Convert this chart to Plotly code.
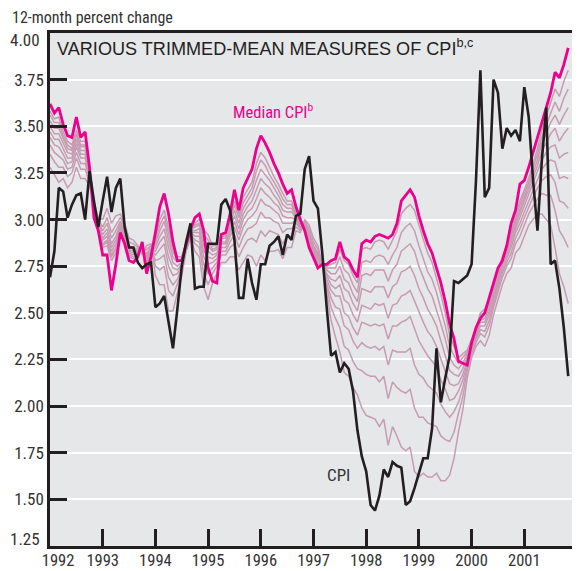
import plotly.graph_objects as go

# ---------------- data ----------------
start_year = 1992  # first observation: January 1992, monthly to November 2001

median_cpi = [
    3.62, 3.57, 3.60, 3.51, 3.45, 3.44, 3.55, 3.44, 3.47, 3.28,
    3.01, 2.94, 2.81, 2.81, 2.62, 2.76, 2.93, 2.87, 2.78, 2.77,
    2.80, 2.88, 2.71, 2.80, 2.93, 3.07, 3.14, 3.03, 2.88, 2.78,
    2.78, 2.87, 2.95, 3.01, 3.03, 2.94, 2.74, 2.67, 2.66, 2.92,
    2.93, 3.03, 3.16, 3.05, 3.17, 3.22, 3.27, 3.38, 3.45, 3.41,
    3.36, 3.30, 3.25, 3.19, 3.14, 3.16, 3.07, 3.00, 2.94, 2.85,
    2.79, 2.74, 2.76, 2.76, 2.78, 2.79, 2.88, 2.80, 2.78, 2.73,
    2.69, 2.87, 2.89, 2.88, 2.91, 2.92, 2.91, 2.90, 2.92, 2.98,
    3.10, 3.13, 3.16, 3.12, 3.02, 2.94, 2.87, 2.82, 2.74, 2.66,
    2.56, 2.44, 2.36, 2.24, 2.23, 2.22, 2.34, 2.42, 2.47, 2.50,
    2.58, 2.66, 2.74, 2.78, 2.86, 2.98, 3.05, 3.19, 3.21, 3.28,
    3.36, 3.44, 3.53, 3.60, 3.68, 3.79, 3.76, 3.83, 3.92,
]

cpi = [
    2.69, 2.83, 3.17, 3.15, 3.01, 3.08, 3.13, 3.14, 3.00, 3.26,
    3.10, 2.96, 3.10, 3.23, 3.04, 3.17, 3.22, 2.96, 2.85, 2.85,
    2.77, 2.74, 2.76, 2.77, 2.53, 2.55, 2.59, 2.44, 2.31, 2.52,
    2.75, 2.88, 2.98, 2.63, 2.64, 2.64, 2.87, 2.87, 2.87, 3.08,
    3.11, 3.05, 2.89, 2.58, 2.58, 2.79, 2.66, 2.57, 2.76, 2.76,
    2.86, 2.88, 2.91, 2.81, 2.92, 2.89, 3.02, 3.03, 3.27, 3.34,
    3.10, 3.06, 2.82, 2.53, 2.27, 2.29, 2.18, 2.23, 2.20, 2.08,
    1.87, 1.73, 1.65, 1.47, 1.44, 1.52, 1.66, 1.62, 1.70, 1.68,
    1.67, 1.47, 1.49, 1.56, 1.64, 1.72, 1.72, 1.88, 2.31, 2.02,
    2.15, 2.27, 2.67, 2.66, 2.68, 2.70, 2.76, 3.21, 3.80, 3.12,
    3.17, 3.75, 3.68, 3.38, 3.49, 3.45, 3.48, 3.42, 3.71, 3.55,
    3.21, 2.94, 3.32, 3.60, 2.76, 2.78, 2.63, 2.42, 2.16,
]

# trimmed means, from the most heavily trimmed (closest to the median) to the least
trim_45 = [
    3.58, 3.54, 3.55, 3.47, 3.42, 3.40, 3.48, 3.42, 3.42, 3.28,
    3.04, 2.96, 2.85, 2.86, 2.78, 2.82, 2.93, 2.88, 2.80, 2.79,
    2.81, 2.86, 2.76, 2.82, 2.90, 3.00, 3.05, 2.96, 2.86, 2.80,
    2.80, 2.88, 2.95, 2.98, 3.00, 2.94, 2.92, 2.86, 2.86, 2.92,
    2.92, 3.00, 3.10, 3.03, 3.12, 3.16, 3.20, 3.30, 3.36, 3.33,
    3.28, 3.23, 3.19, 3.14, 3.10, 3.10, 3.04, 2.98, 2.95, 2.87,
    2.80, 2.76, 2.76, 2.75, 2.76, 2.77, 2.84, 2.78, 2.76, 2.70,
    2.66, 2.84, 2.85, 2.84, 2.88, 2.89, 2.88, 2.84, 2.89, 2.94,
    3.03, 3.06, 3.08, 3.05, 2.97, 2.89, 2.82, 2.77, 2.69, 2.60,
    2.50, 2.38, 2.32, 2.26, 2.28, 2.30, 2.36, 2.42, 2.50, 2.52,
    2.58, 2.64, 2.72, 2.80, 2.86, 2.94, 3.02, 3.10, 3.16, 3.22,
    3.30, 3.38, 3.48, 3.55, 3.62, 3.70, 3.66, 3.74, 3.80,
]
trim_40 = [
    3.56, 3.52, 3.52, 3.45, 3.40, 3.38, 3.46, 3.40, 3.40, 3.27,
    3.04, 2.96, 2.86, 2.88, 2.80, 2.84, 2.94, 2.89, 2.81, 2.80,
    2.81, 2.86, 2.77, 2.82, 2.88, 2.97, 3.02, 2.92, 2.83, 2.78,
    2.79, 2.88, 2.95, 2.97, 2.98, 2.92, 2.89, 2.84, 2.85, 2.91,
    2.91, 2.98, 3.08, 3.01, 3.09, 3.13, 3.17, 3.26, 3.32, 3.29,
    3.24, 3.20, 3.16, 3.11, 3.08, 3.08, 3.03, 2.98, 2.95, 2.88,
    2.81, 2.77, 2.76, 2.74, 2.74, 2.74, 2.80, 2.73, 2.71, 2.65,
    2.61, 2.77, 2.78, 2.77, 2.80, 2.81, 2.80, 2.76, 2.81, 2.85,
    2.93, 2.96, 2.98, 2.94, 2.86, 2.79, 2.72, 2.68, 2.61, 2.52,
    2.43, 2.32, 2.27, 2.23, 2.26, 2.29, 2.35, 2.41, 2.49, 2.50,
    2.56, 2.63, 2.71, 2.79, 2.85, 2.92, 3.00, 3.08, 3.14, 3.20,
    3.28, 3.35, 3.44, 3.51, 3.57, 3.63, 3.58, 3.65, 3.70,
]
trim_35 = [
    3.53, 3.49, 3.49, 3.43, 3.38, 3.37, 3.45, 3.39, 3.39, 3.26,
    3.05, 2.97, 2.87, 2.89, 2.81, 2.85, 2.95, 2.90, 2.82, 2.81,
    2.82, 2.85, 2.78, 2.83, 2.87, 2.94, 2.99, 2.89, 2.80, 2.77,
    2.78, 2.87, 2.94, 2.96, 2.97, 2.89, 2.86, 2.83, 2.84, 2.90,
    2.90, 2.97, 3.05, 2.98, 3.06, 3.10, 3.14, 3.21, 3.27, 3.24,
    3.21, 3.17, 3.13, 3.08, 3.06, 3.06, 3.02, 2.97, 2.96, 2.89,
    2.82, 2.78, 2.76, 2.73, 2.71, 2.71, 2.75, 2.68, 2.66, 2.60,
    2.56, 2.70, 2.71, 2.70, 2.73, 2.73, 2.73, 2.67, 2.73, 2.76,
    2.83, 2.85, 2.87, 2.83, 2.75, 2.69, 2.63, 2.59, 2.52, 2.44,
    2.36, 2.26, 2.22, 2.20, 2.23, 2.28, 2.34, 2.40, 2.48, 2.49,
    2.55, 2.62, 2.70, 2.78, 2.84, 2.91, 2.99, 3.06, 3.12, 3.18,
    3.25, 3.32, 3.41, 3.46, 3.52, 3.56, 3.51, 3.56, 3.60,
]
trim_30 = [
    3.50, 3.46, 3.46, 3.41, 3.36, 3.35, 3.43, 3.37, 3.37, 3.25,
    3.05, 2.97, 2.89, 2.91, 2.83, 2.87, 2.96, 2.91, 2.83, 2.82,
    2.82, 2.85, 2.79, 2.83, 2.85, 2.91, 2.95, 2.85, 2.77, 2.75,
    2.77, 2.87, 2.94, 2.94, 2.95, 2.86, 2.83, 2.81, 2.82, 2.88,
    2.88, 2.95, 3.02, 2.95, 3.03, 3.07, 3.10, 3.16, 3.22, 3.19,
    3.17, 3.13, 3.10, 3.05, 3.04, 3.04, 3.01, 2.97, 2.96, 2.90,
    2.83, 2.79, 2.76, 2.71, 2.68, 2.67, 2.70, 2.63, 2.61, 2.55,
    2.51, 2.63, 2.62, 2.61, 2.64, 2.64, 2.64, 2.58, 2.64, 2.66,
    2.72, 2.73, 2.75, 2.70, 2.63, 2.58, 2.52, 2.48, 2.43, 2.35,
    2.27, 2.19, 2.17, 2.16, 2.20, 2.26, 2.33, 2.39, 2.46, 2.47,
    2.53, 2.60, 2.68, 2.76, 2.82, 2.89, 2.97, 3.04, 3.10, 3.16,
    3.22, 3.29, 3.37, 3.41, 3.46, 3.49, 3.42, 3.46, 3.49,
]
trim_25 = [
    3.47, 3.43, 3.43, 3.38, 3.33, 3.33, 3.41, 3.35, 3.35, 3.24,
    3.06, 2.98, 2.90, 2.93, 2.85, 2.89, 2.97, 2.92, 2.84, 2.83,
    2.83, 2.84, 2.80, 2.84, 2.83, 2.88, 2.91, 2.80, 2.74, 2.73,
    2.76, 2.86, 2.93, 2.93, 2.93, 2.83, 2.80, 2.79, 2.81, 2.87,
    2.87, 2.93, 2.99, 2.92, 3.00, 3.04, 3.06, 3.11, 3.17, 3.14,
    3.12, 3.09, 3.07, 3.02, 3.01, 3.01, 3.00, 2.96, 2.97, 2.91,
    2.84, 2.80, 2.76, 2.70, 2.65, 2.63, 2.65, 2.57, 2.55, 2.49,
    2.45, 2.54, 2.53, 2.52, 2.55, 2.54, 2.55, 2.47, 2.54, 2.55,
    2.59, 2.60, 2.62, 2.56, 2.50, 2.45, 2.40, 2.37, 2.32, 2.25,
    2.18, 2.12, 2.11, 2.12, 2.17, 2.25, 2.32, 2.38, 2.45, 2.45,
    2.51, 2.59, 2.67, 2.75, 2.81, 2.87, 2.95, 3.01, 3.07, 3.13,
    3.19, 3.26, 3.32, 3.36, 3.39, 3.40, 3.33, 3.35, 3.36,
]
trim_20 = [
    3.44, 3.40, 3.39, 3.35, 3.30, 3.31, 3.39, 3.33, 3.33, 3.23,
    3.06, 2.98, 2.92, 2.95, 2.87, 2.91, 2.98, 2.93, 2.85, 2.84,
    2.83, 2.84, 2.81, 2.84, 2.81, 2.84, 2.87, 2.75, 2.70, 2.71,
    2.75, 2.86, 2.93, 2.91, 2.91, 2.80, 2.76, 2.77, 2.79, 2.85,
    2.85, 2.91, 2.96, 2.89, 2.96, 3.00, 3.02, 3.05, 3.11, 3.08,
    3.07, 3.05, 3.03, 2.98, 2.98, 2.98, 2.99, 2.96, 2.97, 2.92,
    2.85, 2.81, 2.76, 2.68, 2.62, 2.59, 2.59, 2.50, 2.48, 2.42,
    2.38, 2.45, 2.44, 2.43, 2.44, 2.43, 2.44, 2.36, 2.43, 2.43,
    2.45, 2.46, 2.48, 2.41, 2.35, 2.31, 2.27, 2.24, 2.21, 2.14,
    2.09, 2.03, 2.04, 2.08, 2.14, 2.23, 2.31, 2.37, 2.43, 2.43,
    2.49, 2.57, 2.65, 2.73, 2.79, 2.85, 2.93, 2.98, 3.04, 3.10,
    3.16, 3.22, 3.27, 3.30, 3.32, 3.31, 3.22, 3.23, 3.22,
]
trim_15 = [
    3.40, 3.36, 3.34, 3.32, 3.27, 3.28, 3.36, 3.30, 3.30, 3.22,
    3.07, 2.99, 2.94, 2.98, 2.90, 2.94, 2.99, 2.94, 2.86, 2.85,
    2.84, 2.83, 2.82, 2.85, 2.78, 2.79, 2.81, 2.69, 2.65, 2.68,
    2.74, 2.85, 2.92, 2.89, 2.88, 2.76, 2.71, 2.74, 2.77, 2.83,
    2.83, 2.88, 2.92, 2.85, 2.91, 2.95, 2.96, 2.98, 3.04, 3.01,
    3.01, 2.99, 2.98, 2.93, 2.95, 2.95, 2.98, 2.95, 2.98, 2.93,
    2.86, 2.82, 2.76, 2.66, 2.58, 2.53, 2.52, 2.43, 2.41, 2.35,
    2.31, 2.34, 2.32, 2.31, 2.32, 2.30, 2.32, 2.22, 2.30, 2.29,
    2.29, 2.29, 2.31, 2.22, 2.17, 2.15, 2.11, 2.09, 2.07, 2.01,
    1.97, 1.94, 1.97, 2.02, 2.10, 2.21, 2.30, 2.36, 2.41, 2.40,
    2.46, 2.55, 2.63, 2.71, 2.77, 2.82, 2.90, 2.95, 3.01, 3.07,
    3.12, 3.17, 3.21, 3.23, 3.24, 3.20, 3.10, 3.09, 3.06,
]
trim_10 = [
    3.35, 3.31, 3.28, 3.28, 3.23, 3.25, 3.33, 3.27, 3.27, 3.20,
    3.08, 3.00, 2.96, 3.01, 2.93, 2.97, 3.01, 2.96, 2.88, 2.87,
    2.85, 2.82, 2.84, 2.86, 2.75, 2.73, 2.75, 2.62, 2.59, 2.65,
    2.72, 2.84, 2.91, 2.87, 2.85, 2.71, 2.65, 2.71, 2.75, 2.81,
    2.81, 2.85, 2.87, 2.80, 2.85, 2.89, 2.90, 2.88, 2.94, 2.91,
    2.94, 2.93, 2.92, 2.87, 2.91, 2.91, 2.96, 2.94, 2.99, 2.95,
    2.88, 2.84, 2.76, 2.64, 2.53, 2.47, 2.42, 2.32, 2.30, 2.24,
    2.20, 2.19, 2.17, 2.16, 2.16, 2.13, 2.16, 2.04, 2.13, 2.10,
    2.08, 2.07, 2.09, 1.99, 1.94, 1.94, 1.91, 1.90, 1.89, 1.84,
    1.82, 1.81, 1.86, 1.96, 2.05, 2.19, 2.28, 2.34, 2.39, 2.37,
    2.43, 2.53, 2.61, 2.69, 2.75, 2.79, 2.87, 2.91, 2.97, 3.03,
    3.07, 3.11, 3.14, 3.13, 3.13, 3.05, 2.94, 2.90, 2.85,
]
trim_05 = [
    3.28, 3.24, 3.20, 3.22, 3.17, 3.20, 3.28, 3.22, 3.22, 3.18,
    3.09, 3.01, 3.00, 3.06, 2.98, 3.02, 3.03, 2.98, 2.90, 2.89,
    2.86, 2.81, 2.86, 2.87, 2.70, 2.65, 2.65, 2.51, 2.51, 2.60,
    2.70, 2.83, 2.90, 2.83, 2.80, 2.64, 2.57, 2.66, 2.71, 2.77,
    2.77, 2.80, 2.80, 2.73, 2.77, 2.81, 2.80, 2.75, 2.81, 2.78,
    2.83, 2.83, 2.84, 2.79, 2.85, 2.85, 2.94, 2.93, 3.00, 2.97,
    2.90, 2.86, 2.76, 2.60, 2.46, 2.37, 2.29, 2.18, 2.16, 2.10,
    2.06, 1.99, 1.95, 1.94, 1.93, 1.89, 1.93, 1.79, 1.89, 1.84,
    1.78, 1.76, 1.78, 1.65, 1.62, 1.64, 1.62, 1.62, 1.64, 1.60,
    1.60, 1.63, 1.72, 1.86, 1.98, 2.15, 2.26, 2.32, 2.35, 2.32,
    2.38, 2.49, 2.57, 2.65, 2.71, 2.74, 2.82, 2.85, 2.91, 2.97,
    3.00, 3.03, 3.03, 3.00, 2.97, 2.85, 2.71, 2.64, 2.55,
]

# axis ticks; the 1992 label is nudged right of the frame with two figure spaces,
# and the labels on the frame corners (1.25 and 4.00) are placed as annotations
year_ticks = [1992, 1993, 1994, 1995, 1996, 1997, 1998, 1999, 2000, 2001]
year_labels = ["\u2007\u20071992", "1993", "1994", "1995", "1996", "1997", "1998", "1999", "2000", "2001"]
y_ticks = [1.50, 1.75, 2.00, 2.25, 2.50, 2.75, 3.00, 3.25, 3.50, 3.75]
y_labels = ["1.50", "1.75", "2.00", "2.25", "2.50", "2.75", "3.00", "3.25", "3.50", "3.75"]
bottom_y_label = "1.25"
top_y_label = "4.00"

# ---------------- styling ----------------
NARROW = "Liberation Sans Narrow, Arial Narrow, Roboto Condensed, Liberation Sans, Arial, sans-serif"
WIDE = "Liberation Sans, Arial, Helvetica, sans-serif"
INK = "#231f20"
TEXT = "#333333"
MAGENTA = "#ec008c"
MAUVE = "#c59cb2"
PANEL = "#e6e7e9"

# the page body has an 8px default margin, so the figure is 8px smaller than the window
PAGE_PAD = 8
W, H = 580 - PAGE_PAD, 571 - PAGE_PAD
PLOT_L, PLOT_R, PLOT_T, PLOT_B = 50, 577, 33, 546  # plot frame in window pixels


def month_positions(n):
    return [start_year + i / 12.0 for i in range(n)]


def px_to_paper(px, py):
    return ((px - PLOT_L) / (PLOT_R - PLOT_L), (PLOT_B - py) / (PLOT_B - PLOT_T))


fig = go.Figure()

for series in [trim_05, trim_10, trim_15, trim_20, trim_25, trim_30, trim_35, trim_40, trim_45]:
    fig.add_trace(go.Scatter(
        x=month_positions(len(series)), y=series, mode="lines",
        line=dict(color=MAUVE, width=1.5), hoverinfo="skip",
    ))

fig.add_trace(go.Scatter(
    x=month_positions(len(median_cpi)), y=median_cpi, mode="lines",
    line=dict(color=MAGENTA, width=2.8), hoverinfo="skip",
))
fig.add_trace(go.Scatter(
    x=month_positions(len(cpi)), y=cpi, mode="lines",
    line=dict(color=INK, width=2.6), hoverinfo="skip",
))

fig.update_layout(
    width=W, height=H,
    margin=dict(l=PLOT_L - PAGE_PAD, r=580 - PLOT_R, t=PLOT_T - PAGE_PAD, b=571 - PLOT_B),
    paper_bgcolor="white", plot_bgcolor=PANEL,
    showlegend=False,
    font=dict(family=NARROW, color=TEXT, size=16),
)

fig.update_xaxes(
    range=[1992, 2002], tickmode="array", tickvals=year_ticks, ticktext=year_labels,
    ticks="inside", ticklen=17, tickwidth=2.5, tickcolor=INK,
    showline=True, linewidth=2.5, linecolor=INK, mirror=True,
    showgrid=False, zeroline=False, automargin=False, ticklabelstandoff=-3,
    tickfont=dict(size=16.5, color=TEXT, family=NARROW),
)
fig.update_yaxes(
    range=[1.25, 4.0], tickmode="array", tickvals=y_ticks, ticktext=y_labels,
    ticks="inside", ticklen=17, tickwidth=2.5, tickcolor=INK,
    showline=True, linewidth=2.5, linecolor=INK, mirror=True,
    showgrid=True, gridcolor="white", gridwidth=2.2, zeroline=False, automargin=False,
    tickfont=dict(size=17, color=TEXT, family=NARROW),
)


def note(text, px, py, xanchor="left", yanchor="middle", size=16, color=TEXT, family=NARROW):
    x, y = px_to_paper(px, py)
    return dict(text=text, x=x, y=y, xref="paper", yref="paper", showarrow=False,
                xanchor=xanchor, yanchor=yanchor, borderpad=0,
                font=dict(size=size, color=color, family=family))


annotations = [
    note("12-month percent change", 11, 17, size=16),
    note("VARIOUS TRIMMED-MEAN MEASURES OF CPI<sup>b,c</sup>", 56, 47, size=18.1, color=INK, family=WIDE),
    note("Median CPI<sup>b</sup>", 232, 111, size=16.5, color=MAGENTA),
    note("CPI", 326, 475, size=17),
    note(top_y_label, 41, 40, xanchor="right", size=17),
    note(bottom_y_label, 41, 539, xanchor="right", size=17),
]
fig.update_layout(annotations=annotations)

fig.write_html("out.html")
